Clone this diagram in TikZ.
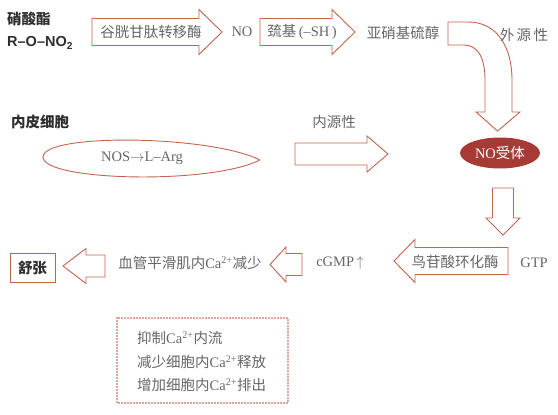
\documentclass[tikz,border=0pt]{standalone}
\usepackage{fontspec}
\usepackage{xcolor}
\usepackage{tikz}
\usetikzlibrary{shapes.geometric}
\setmainfont{Liberation Serif}
\newfontfamily\cjk{Noto Sans CJK SC}
\newfontfamily\hdsans{Liberation Sans}
\definecolor{arrowRed}{HTML}{C2644F}
\definecolor{receptorRed}{HTML}{A83A36}
\definecolor{textGray}{HTML}{666666}
\definecolor{headGray}{HTML}{2E2E2E}
\definecolor{dotRed}{HTML}{C8463A}

\begin{document}
\begin{tikzpicture}[x=1pt, y=-1pt,
    blockarrow/.style={draw=arrowRed, line width=0.9pt, fill=white, line join=miter},
    label/.style={text=textGray, inner sep=0pt, font=\fontsize{14.5}{17}\selectfont},
    heading/.style={text=headGray, inner sep=0pt, anchor=west, font=\fontsize{14.5}{17}\selectfont\bfseries}]
    \useasboundingbox (0,0) rectangle (558,415);
    % headings
    \node[heading] (nitrate) at (7,19) {\cjk 硝酸酯};
    \node[heading] (rono) at (7,43) {\hdsans R–O–NO\textsubscript{2}};
    \node[heading] (endocell) at (11,122) {\cjk 内皮细胞};
    % top row
    \draw[blockarrow] (92,18.5) -- (199,18.5) -- (199,9.5) -- (222,32) -- (199,54.5) -- (199,45.5) -- (92,45.5) -- cycle;
    \node[label] (gst) at (151,32) {\cjk 谷胱甘肽转移酶};
    \node[label] (no) at (242,32) {NO};
    \draw[blockarrow] (260,18.5) -- (332,18.5) -- (332,9.5) -- (355,32) -- (332,54.5) -- (332,45.5) -- (260,45.5) -- cycle;
    \node[label] (sh) at (302,32) {{\cjk 巯基}\,(–SH\,)};
    \node[label] (snitroso) at (403,33) {\cjk 亚硝基硫醇};
    \draw[blockarrow] (448,22) -- (468,22) .. controls (498,22) and (512,48) .. (512,80)
        -- (512,112) -- (520,112) -- (497.5,131) -- (476,112) -- (485,112) -- (485,80)
        .. controls (485,58) and (478,45) .. (464,45) -- (448,45) -- cycle;
    \node[label] (exo) at (524,35) {\cjk 外\,源\,性};
    % middle row
    \draw[arrowRed, line width=0.9pt] (260,160) .. controls (210,135) and (43,133) .. (43,157)
        .. controls (43,181) and (210,185) .. (260,160);
    \node[label] (nos) at (142,158) {NOS$\rightarrow$L–Arg};
    \node[label] (endo) at (334,122) {\cjk 内源性};
    \draw[blockarrow] (295,143) -- (367,143) -- (367,136) -- (388,154) -- (367,172) -- (367,165) -- (295,165) -- cycle;
    \node[ellipse, fill=receptorRed, text=white, minimum width=80pt, minimum height=31pt, inner sep=0pt,
        font=\fontsize{14.5}{17}\selectfont] (rec) at (500,153) {NO{\cjk 受体}};
    \draw[blockarrow] (492.5,188) -- (513.5,188) -- (513.5,218) -- (520,218) -- (503,235) -- (486,218) -- (492.5,218) -- cycle;
    % bottom row
    \node[label] (gtp) at (534,263) {GTP};
    \draw[blockarrow] (508,247.5) -- (415,247.5) -- (415,239.5) -- (394,261) -- (415,282.5) -- (415,274.5) -- (508,274.5) -- cycle;
    \node[label] (gc) at (455,262) {\cjk 鸟苷酸环化酶};
    \node[label] (cgmp) at (340,263) {cGMP\,$\uparrow$};
    \draw[blockarrow] (302,253.5) -- (286,253.5) -- (286,247) -- (270,264.5) -- (286,282) -- (286,275.5) -- (302,275.5) -- cycle;
    \node[label] (ca) at (190,263) {{\cjk 血管平滑肌内}Ca\textsuperscript{2+}{\cjk 减少}};
    \draw[blockarrow] (105,255) -- (86,255) -- (86,248.5) -- (63,266) -- (86,283.5) -- (86,277) -- (105,277) -- cycle;
    \node[draw=arrowRed, line width=0.9pt, text=headGray, minimum width=45pt, minimum height=29pt, inner sep=0pt,
        font=\fontsize{14.5}{17}\selectfont\bfseries] (relax) at (32.5,267.5) {\cjk 舒张};
    % mechanisms
    \draw[dotRed, line width=1.7pt, line cap=round, dash pattern=on 0pt off 3pt] (117,318) rectangle (288,403);
    \node[label, anchor=west] (mech1) at (137,338) {{\cjk 抑制}Ca\textsuperscript{2+}{\cjk 内流}};
    \node[label, anchor=west] (mech2) at (137,362) {{\cjk 减少细胞内}Ca\textsuperscript{2+}{\cjk 释放}};
    \node[label, anchor=west] (mech3) at (137,385) {{\cjk 增加细胞内}Ca\textsuperscript{2+}{\cjk 排出}};
\end{tikzpicture}
\end{document}
